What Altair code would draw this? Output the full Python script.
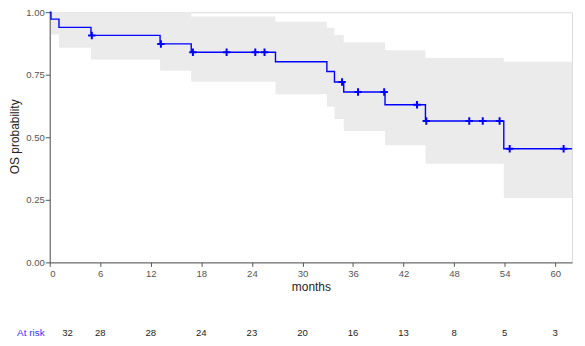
import altair as alt
import pandas as pd

# ---- data ----
step_times = [0, 0.15, 1.1, 4.9, 13.1, 16.8, 26.8, 32.9, 33.8, 34.9, 39.8, 44.6, 53.9, 62.0]
surv       = [1.0, 0.972, 0.939, 0.907, 0.873, 0.840, 0.802, 0.763, 0.721, 0.681, 0.630, 0.565, 0.454, 0.454]
upper      = [1.0, 1.0, 1.0, 1.0, 1.0, 0.983, 0.962, 0.938, 0.909, 0.880, 0.848, 0.817, 0.802, 0.802]
lower      = [1.0, 0.911, 0.858, 0.811, 0.766, 0.722, 0.672, 0.622, 0.573, 0.525, 0.468, 0.394, 0.257, 0.257]

censor_times = [5.0, 13.2, 17.0, 21.0, 24.4, 25.5, 34.7, 36.6, 39.7, 43.6, 44.7, 49.8, 51.4, 53.4, 54.6, 61.0]
censor_surv  = [0.907, 0.873, 0.840, 0.840, 0.840, 0.840, 0.721, 0.681, 0.681, 0.630, 0.565, 0.565, 0.565, 0.565, 0.454, 0.454]

risk_times  = [0, 6, 12, 18, 24, 30, 36, 42, 48, 54, 60]
risk_counts = [32, 28, 28, 24, 23, 20, 16, 13, 8, 5, 3]

x_ticks = [0, 6, 12, 18, 24, 30, 36, 42, 48, 54, 60]
y_ticks = [0, 0.25, 0.5, 0.75, 1.0]

curve = pd.DataFrame({"t": step_times, "s": surv, "lo": lower, "hi": upper})
cens = pd.DataFrame({"t": censor_times, "s": censor_surv})
risk = pd.DataFrame({"t": risk_times, "n": [str(v) for v in risk_counts]})

AX = "#555555"
W, H = 526, 252

xscale = alt.Scale(domain=[0, 62], nice=False, zero=False)
yscale = alt.Scale(domain=[0, 1], nice=False)

xaxis = alt.Axis(values=x_ticks, title="months", grid=False, tickSize=4, labelPadding=2,
                 titlePadding=4, labelFontSize=9.6, titleFontSize=12, titleFontWeight="normal",
                 labelColor=AX, domainColor=AX, tickColor=AX, titleColor="#222222")
yaxis = alt.Axis(values=y_ticks, format=".2f", title="OS probability", grid=False, tickSize=4.5,
                 labelPadding=1, labelFontSize=9.6, titleFontSize=12, titleFontWeight="normal",
                 labelColor=AX, domainColor=AX, tickColor=AX, titleColor="#222222",
                 titleX=-35, titleY=125, titleAngle=-90, titleBaseline="middle", titleAlign="center")

band = alt.Chart(curve).mark_area(interpolate="step-after", color="#EBEBEB", opacity=1).encode(
    x=alt.X("t:Q", scale=xscale, axis=xaxis),
    y=alt.Y("lo:Q", scale=yscale, axis=yaxis),
    y2="hi:Q",
)

line = alt.Chart(curve).mark_line(interpolate="step-after", color="#0000FF", strokeWidth=1.4).encode(
    x=alt.X("t:Q", scale=xscale),
    y=alt.Y("s:Q", scale=yscale),
)

marks = alt.Chart(cens).mark_point(shape="M-1,0L1,0M0,-1L0,1", size=56, filled=False,
                                   color="#0000FF", strokeWidth=2, opacity=1).encode(
    x=alt.X("t:Q", scale=xscale),
    y=alt.Y("s:Q", scale=yscale),
)

risk_first = alt.Chart(risk.iloc[:1]).mark_text(fontSize=9.6, color="#222222", baseline="middle",
                                                 align="center", dx=18).encode(
    x=alt.X("t:Q", scale=xscale), y=alt.value(323), text="n:N")
risk_rest = alt.Chart(risk.iloc[1:]).mark_text(fontSize=9.6, color="#222222", baseline="middle",
                                                align="center").encode(
    x=alt.X("t:Q", scale=xscale), y=alt.value(323), text="n:N")
risk_label = alt.Chart(pd.DataFrame({"l": ["At risk"]})).mark_text(
    fontSize=10, color="#3333FF", baseline="middle", align="center").encode(
    x=alt.value(-19), y=alt.value(323), text="l:N")

chart = alt.layer(band, line, marks, risk_first, risk_rest, risk_label).properties(
    width=W, height=H,
    autosize=alt.AutoSizeParams(type="none"),
    padding={"left": 42, "top": 3, "right": 5, "bottom": 80},
).configure_view(strokeWidth=0).configure(font="Liberation Sans")

chart.save("out.html", embed_options={"renderer": "svg", "actions": False})
